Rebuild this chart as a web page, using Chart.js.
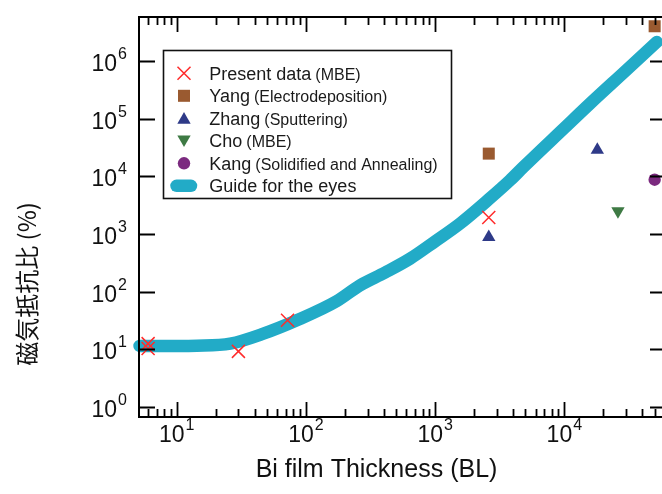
<!DOCTYPE html>
<html><head><meta charset="utf-8">
<script src="https://cdn.jsdelivr.net/npm/chart.js@4/dist/chart.umd.min.js"></script>
<style>html,body{margin:0;padding:0;background:#fff;overflow:hidden}</style>
</head><body>
<canvas id="c" width="662" height="494"></canvas>
<script>
// ---- data ----
const presentX = [6, 6, 30, 72, 2600];
const presentY = [12.4, 10.2, 9.1, 31.6, 1930];
const yangX = [2600, 50000];
const yangY = [25000, 4.1e6];
const zhangX = [2600, 18000];
const zhangY = [880, 29000];
const choX = [26000];
const choY = [2500];
const kangX = [50000];
const kangY = [8800];
const guideX = [5.15, 10, 14.3, 25.9, 46.8, 85, 173, 262, 410, 640, 1000, 1556, 2600, 3800, 4820, 10000, 15800, 30000, 51900];
const guideY = [11.3, 11.3, 11.4, 12.4, 18.5, 31.6, 68, 128, 214, 373, 746, 1517, 4010, 8590, 14600, 69700, 185000, 697000, 2.18e6];

const seriesNames = ['Present data', 'Yang', 'Zhang', 'Cho', 'Kang', 'Guide for the eyes'];
const seriesMethods = ['(MBE)', '(Electrodeposition)', '(Sputtering)', '(MBE)', '(Solidified and Annealing)', ''];

const xTickValues = [10, 100, 1000, 10000];
const xTickExps = ['1', '2', '3', '4'];
const yTickValues = [1, 10, 100, 1000, 10000, 100000, 1000000];
const yTickExps = ['0', '1', '2', '3', '4', '5', '6'];

const xTitle = 'Bi film Thickness (BL)';
const yTitle = '磁気抵抗比 (%)';

const X_MIN = 5.1, X_MAX = 57000;
const Y_MIN = 0.657, Y_MAX = 5.94e6;

const pts = (xs, ys) => xs.map((x, i) => ({x, y: ys[i]}));

const RED = '#ff2b2b', BROWN = '#9a5a30', NAVY = '#2e3a88', GREEN = '#3e7a44', PURPLE = '#7b2a7f', CYAN = '#22abc7';

const SANS = '"Liberation Sans", Arial, Helvetica, sans-serif';

function drawMarker(ctx, style, r, rot, x, y, color, lw) {
  ctx.save();
  ctx.fillStyle = color; ctx.strokeStyle = color; ctx.lineWidth = lw || 1;
  ctx.beginPath();
  if (style === 'crossRot') {
    const o = r * Math.SQRT1_2;
    ctx.moveTo(x - o, y - o); ctx.lineTo(x + o, y + o);
    ctx.moveTo(x - o, y + o); ctx.lineTo(x + o, y - o);
    ctx.stroke();
  } else if (style === 'rect') {
    const s = r * Math.SQRT1_2;
    ctx.rect(x - s, y - s, 2 * s, 2 * s); ctx.fill();
  } else if (style === 'triangle') {
    let a = rot * Math.PI / 180;
    for (let k = 0; k < 3; k++) {
      const px = x + Math.sin(a) * r, py = y - Math.cos(a) * r;
      if (k === 0) ctx.moveTo(px, py); else ctx.lineTo(px, py);
      a += 2 * Math.PI / 3;
    }
    ctx.closePath(); ctx.fill();
  } else if (style === 'circle') {
    ctx.arc(x, y, r, 0, Math.PI * 2); ctx.fill();
  }
  ctx.restore();
}

const frame = {
  id: 'frame',
  afterDraw(chart) {
    const ctx = chart.ctx, a = chart.chartArea, xs = chart.scales.x, ys = chart.scales.y;
    ctx.save();
    ctx.strokeStyle = '#000';
    // spines
    ctx.lineWidth = 2;
    ctx.beginPath();
    ctx.moveTo(a.left, a.top); ctx.lineTo(a.right + 5, a.top);
    ctx.moveTo(a.left, a.top - 1); ctx.lineTo(a.left, a.bottom + 1);
    ctx.moveTo(a.left - 1, a.bottom); ctx.lineTo(a.right + 5, a.bottom);
    ctx.stroke();
    // ticks
    ctx.lineWidth = 1.8;
    ctx.beginPath();
    xTickValues.forEach(v => {
      const p = Math.round(xs.getPixelForValue(v)) + 0.5;
      ctx.moveTo(p, a.bottom); ctx.lineTo(p, a.bottom - 15);
      ctx.moveTo(p, a.top); ctx.lineTo(p, a.top + 15);
    });
    for (let d = 0; d <= 4; d++) {
      for (let m = 2; m <= 9; m++) {
        const v = m * Math.pow(10, d);
        if (v <= xs.min || v >= xs.max) continue;
        const p = Math.round(xs.getPixelForValue(v)) + 0.5;
        ctx.moveTo(p, a.bottom); ctx.lineTo(p, a.bottom - 8);
        ctx.moveTo(p, a.top); ctx.lineTo(p, a.top + 8);
      }
    }
    yTickValues.forEach(v => {
      const p = Math.round(ys.getPixelForValue(v)) + 0.5;
      ctx.moveTo(a.left, p); ctx.lineTo(a.left + 16, p);
      ctx.moveTo(a.right, p); ctx.lineTo(a.right - 12, p);
    });
    ctx.stroke();

    // tick labels
    ctx.fillStyle = '#111';
    ctx.textBaseline = 'alphabetic';
    const baseFont = '23px ' + SANS, expFont = '16px ' + SANS;
    xTickValues.forEach((v, i) => {
      const p = xs.getPixelForValue(v);
      ctx.font = baseFont; const wb = ctx.measureText('10').width;
      ctx.font = expFont; const we = ctx.measureText(xTickExps[i]).width;
      const x0 = p - (wb + 1 + we) / 2;
      ctx.font = baseFont; ctx.textAlign = 'left'; ctx.fillText('10', x0, a.bottom + 25);
      ctx.font = expFont; ctx.fillText(xTickExps[i], x0 + wb + 1, a.bottom + 13);
    });
    yTickValues.forEach((v, i) => {
      const p = ys.getPixelForValue(v);
      ctx.font = baseFont; const wb = ctx.measureText('10').width;
      ctx.font = expFont; const we = ctx.measureText(yTickExps[i]).width;
      const xr = a.left - 12;
      ctx.textAlign = 'left';
      ctx.font = expFont; ctx.fillText(yTickExps[i], xr - we, p - 2);
      ctx.font = baseFont; ctx.fillText('10', xr - we - 1 - wb, p + 10);
    });

    // axis titles
    ctx.font = '25px ' + SANS; ctx.textAlign = 'center';
    ctx.fillText(xTitle, 376.5, 477);
    ctx.save();
    ctx.translate(27, 284); ctx.rotate(-Math.PI / 2);
    ctx.font = '24px "Noto Sans CJK JP", "Noto Sans CJK SC", sans-serif';
    ctx.textBaseline = 'middle';
    ctx.fillText(yTitle, 0, 0);
    ctx.restore();

    // legend
    ctx.fillStyle = '#fff';
    ctx.fillRect(163.5, 50.5, 288, 148);
    ctx.lineWidth = 1.6; ctx.strokeStyle = '#111';
    ctx.strokeRect(163.5, 50.5, 288, 148);
    chart.data.datasets.forEach((ds, i) => {
      const cy = 73.3 + i * 22.5;
      if (ds.showLine) {
        ctx.save();
        ctx.strokeStyle = ds.borderColor; ctx.lineWidth = 12.5; ctx.lineCap = 'round';
        ctx.beginPath(); ctx.moveTo(176.5, cy); ctx.lineTo(191, cy); ctx.stroke();
        ctx.restore();
      } else {
        const col = ds.pointStyle === 'crossRot' ? ds.borderColor : ds.backgroundColor;
        drawMarker(ctx, ds.pointStyle, ds.pointRadius, ds.rotation || 0, 184, cy + (ds.pointStyle === 'triangle' ? (ds.rotation ? -1.5 : 1.5) : 0), col, ds.borderWidth);
      }
      ctx.fillStyle = '#1a1a1a'; ctx.textAlign = 'left'; ctx.textBaseline = 'alphabetic';
      ctx.font = '18px ' + SANS;
      const name = seriesNames[i];
      ctx.fillText(name, 209.3, cy + 6.5);
      const wn = ctx.measureText(name + ' ').width;
      if (seriesMethods[i]) {
        ctx.font = '16px ' + SANS;
        ctx.fillText(seriesMethods[i], 209.3 + wn - 1, cy + 6.5);
      }
    });
    ctx.restore();
  }
};

new Chart(document.getElementById('c'), {
  type: 'scatter',
  data: {
    datasets: [
      {label: seriesNames[0], data: pts(presentX, presentY), pointStyle: 'crossRot', pointRadius: 9.2, borderColor: RED, backgroundColor: RED, borderWidth: 1.5, pointBorderWidth: 1.5},
      {label: seriesNames[1], data: pts(yangX, yangY), pointStyle: 'rect', pointRadius: 8.5, borderColor: BROWN, backgroundColor: BROWN, borderWidth: 0, pointBorderWidth: 0},
      {label: seriesNames[2], data: pts(zhangX, zhangY), pointStyle: 'triangle', pointRadius: 7.7, borderColor: NAVY, backgroundColor: NAVY, borderWidth: 0, pointBorderWidth: 0},
      {label: seriesNames[3], data: pts(choX, choY), pointStyle: 'triangle', rotation: 180, pointRotation: 180, pointRadius: 7.7, borderColor: GREEN, backgroundColor: GREEN, borderWidth: 0, pointBorderWidth: 0},
      {label: seriesNames[4], data: pts(kangX, kangY), pointStyle: 'circle', pointRadius: 6.2, borderColor: PURPLE, backgroundColor: PURPLE, borderWidth: 0, pointBorderWidth: 0},
      {label: seriesNames[5], data: pts(guideX, guideY), showLine: true, pointRadius: 0, borderColor: CYAN, backgroundColor: CYAN, borderWidth: 12.5, borderCapStyle: 'round', borderJoinStyle: 'round', cubicInterpolationMode: 'monotone', clip: false}
    ]
  },
  options: {
    responsive: false,
    animation: false,
    events: [],
    layout: {autoPadding: false, padding: {top: 17, left: 0, right: 0, bottom: 0}},
    plugins: {legend: {display: false}, tooltip: {enabled: false}, title: {display: false}},
    scales: {
      x: {type: 'logarithmic', min: X_MIN, max: X_MAX, grid: {display: false}, border: {display: false}, ticks: {display: false},
          afterFit(s) { s.height = 77; }},
      y: {type: 'logarithmic', min: Y_MIN, max: Y_MAX, grid: {display: false}, border: {display: false}, ticks: {display: false},
          afterFit(s) { s.width = 139; }}
    }
  },
  plugins: [frame]
});
</script>
</body></html>
